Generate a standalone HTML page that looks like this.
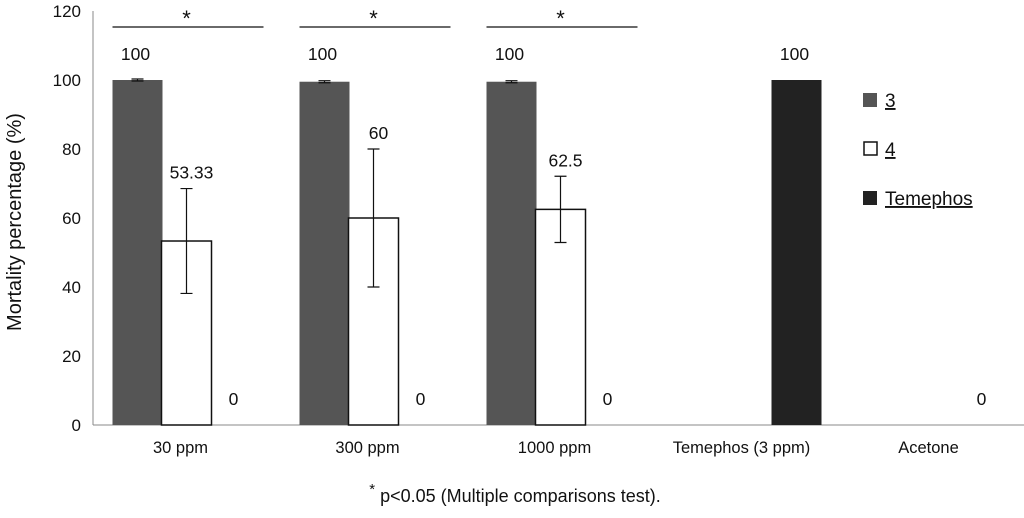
<!DOCTYPE html>
<html><head><meta charset="utf-8"><style>
body{margin:0;background:#fff;}
svg text{font-family:"Liberation Sans",Arial,sans-serif;fill:#111;}
</style></head><body>
<svg id="chart" width="1024" height="513" viewBox="0 0 1024 513" xmlns="http://www.w3.org/2000/svg">
<g id="plot"></g>
<text x="0" y="0" transform="translate(21,222) rotate(-90)" text-anchor="middle" font-size="20">Mortality percentage (%)</text>
<text x="515" y="502" text-anchor="middle" font-size="18"><tspan font-size="15" dy="-8">*</tspan><tspan dy="8"> p&lt;0.05 (Multiple comparisons test).</tspan></text>
<g>
<rect x="863" y="93" width="14" height="14" fill="#555"/>
<text x="885" y="107" font-size="19" text-decoration="underline">3</text>
<rect x="864" y="142" width="13" height="13" fill="#fff" stroke="#111" stroke-width="1.5"/>
<text x="885" y="156" font-size="19" text-decoration="underline">4</text>
<rect x="863" y="191" width="14" height="14" fill="#222"/>
<text x="885" y="205" font-size="19" text-decoration="underline">Temephos</text>
</g>
</svg>
<script>
const categories=["30 ppm","300 ppm","1000 ppm","Temephos (3 ppm)","Acetone"];
const series3=[100,99.5,99.5,null,null];
const err3=[0.3,0.3,0.3,null,null];
const series4=[53.33,60,62.5,null,null];
const err4=[15.2,20,9.6,null,null];
const series5=[0,0,0,100,0];
const labels3=["100","100","100",null,null];
const labels4=["53.33","60","62.5",null,null];
const labels5=["0","0","0","100","0"];
const yTicks=[0,20,40,60,80,100,120];
const sigGroups=[0,1,2];

const NS="http://www.w3.org/2000/svg";
const g=document.getElementById('plot');
const x0=93,band=187,y0=425,k=3.45,bw=50;
const y=v=>y0-v*k;
const cx=i=>x0+band*(i+0.5);
function mk(t,a){const e=document.createElementNS(NS,t);for(const n in a)e.setAttribute(n,a[n]);g.appendChild(e);return e;}
let e=mk('line',{x1:x0,y1:y(0),x2:x0,y2:y(120),stroke:'#888','stroke-width':1});


e=mk('line',{x1:x0,y1:y0,x2:1024,y2:y0,stroke:'#888','stroke-width':1});


yTicks.forEach(t=>{const tx=mk('text',{x:x0-12,y:y(t)+6,'text-anchor':'end','font-size':17});tx.textContent=t;

});
categories.forEach((c,i)=>{const tx=mk('text',{x:cx(i)-6,y:y0+28,'text-anchor':'middle','font-size':16.5});tx.textContent=c;

});
function bar(i,off,v,er,lab,fill,stroke,name){
  if(v===null)return;
  const xl=cx(i)+off-bw/2;
  if(v>0){const r=mk('rect',{x:xl,y:y(v),width:bw,height:v*k,fill:fill,stroke:stroke,'stroke-width':stroke==='none'?0:1.5});
  
  }
  if(er){const m=cx(i)+off;
    const l=mk('path',{d:`M${m},${y(v+er)}V${y(v-er)}M${m-6},${y(v+er)}H${m+6}M${m-6},${y(v-er)}H${m+6}`,stroke:'#111','stroke-width':1.2,fill:'none'});
    
    }
  if(lab!==null){let ly;
    if(v===0) ly=y0-20; else if(v>=99) ly=y(100)-20; else ly=y(v+er)-10;
    const tx=mk('text',{x:cx(i)+off+(v>=99||v===0?-2:5),y:ly,'text-anchor':'middle','font-size':17.5});tx.textContent=lab;
    
    }
}
categories.forEach((c,i)=>{
  bar(i,-49,series3[i],err3[i],labels3[i],'#555','none','bar-3');
  bar(i,0,series4[i],err4[i],labels4[i],'#fff','#111','bar-4');
  bar(i,49,series5[i],0,labels5[i],'#222','none','bar-temephos');
});
sigGroups.forEach(i=>{
  const l=mk('line',{x1:cx(i)-74,y1:27,x2:cx(i)+77,y2:27,stroke:'#111','stroke-width':1.3});
  
  
  const t=mk('text',{x:cx(i),y:26,'text-anchor':'middle','font-size':22});t.textContent='*';
  
  
});
</script>
</body></html>
